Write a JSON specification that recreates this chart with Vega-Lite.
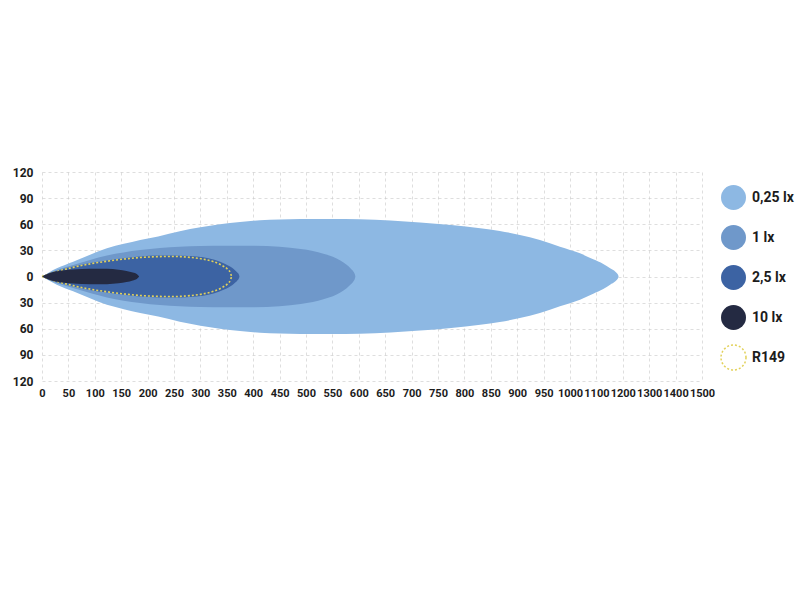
{
  "$schema": "https://vega.github.io/schema/vega-lite/v6.json",
  "autosize": {"type": "none"},
  "padding": {"left": 42, "top": 172, "right": 98, "bottom": 219},
  "width": 660,
  "height": 209,
  "background": "white",
  "config": {
    "view": {"stroke": null},
    "font": "Roboto, 'Liberation Sans', sans-serif",
    "axis": {
      "labelFont": "Roboto, 'Liberation Sans', sans-serif",
      "labelFontSize": 11,
      "labelFontWeight": "bold",
      "labelColor": "#1c1c1c",
      "domain": false,
      "ticks": false,
      "grid": true,
      "gridColor": "#c8c8c8",
      "gridDash": [3, 3],
      "gridWidth": 0.8,
      "gridOpacity": 0.75,
      "title": null,
      "zindex": 1
    }
  },
  "datasets": {
    "zones": [
      {"zone": "0,25 lx", "d": 0, "hi": 0, "lo": 0},
      {"zone": "0,25 lx", "d": 14, "hi": 5, "lo": -5},
      {"zone": "0,25 lx", "d": 28, "hi": 9.4, "lo": -9.4},
      {"zone": "0,25 lx", "d": 59, "hi": 17, "lo": -17},
      {"zone": "0,25 lx", "d": 91, "hi": 25, "lo": -25},
      {"zone": "0,25 lx", "d": 123, "hi": 32.4, "lo": -32.4},
      {"zone": "0,25 lx", "d": 155, "hi": 37.5, "lo": -37.5},
      {"zone": "0,25 lx", "d": 186, "hi": 42, "lo": -42},
      {"zone": "0,25 lx", "d": 220, "hi": 46, "lo": -46},
      {"zone": "0,25 lx", "d": 261, "hi": 52, "lo": -52},
      {"zone": "0,25 lx", "d": 300, "hi": 56.5, "lo": -56.5},
      {"zone": "0,25 lx", "d": 337, "hi": 60, "lo": -60},
      {"zone": "0,25 lx", "d": 375, "hi": 62.5, "lo": -62.5},
      {"zone": "0,25 lx", "d": 413, "hi": 64.5, "lo": -64.5},
      {"zone": "0,25 lx", "d": 450, "hi": 65.5, "lo": -65.5},
      {"zone": "0,25 lx", "d": 489, "hi": 66, "lo": -66},
      {"zone": "0,25 lx", "d": 545, "hi": 66, "lo": -66},
      {"zone": "0,25 lx", "d": 602, "hi": 65.8, "lo": -65.8},
      {"zone": "0,25 lx", "d": 660, "hi": 64.3, "lo": -64.3},
      {"zone": "0,25 lx", "d": 716, "hi": 62, "lo": -62},
      {"zone": "0,25 lx", "d": 775, "hi": 59, "lo": -59},
      {"zone": "0,25 lx", "d": 830, "hi": 55.4, "lo": -55.4},
      {"zone": "0,25 lx", "d": 867, "hi": 52.3, "lo": -52.3},
      {"zone": "0,25 lx", "d": 905, "hi": 47.7, "lo": -47.7},
      {"zone": "0,25 lx", "d": 943, "hi": 41.9, "lo": -41.9},
      {"zone": "0,25 lx", "d": 981, "hi": 34.2, "lo": -34.2},
      {"zone": "0,25 lx", "d": 1019, "hi": 26.6, "lo": -26.6},
      {"zone": "0,25 lx", "d": 1044, "hi": 19.7, "lo": -19.7},
      {"zone": "0,25 lx", "d": 1063, "hi": 14.4, "lo": -14.4},
      {"zone": "0,25 lx", "d": 1076, "hi": 9.4, "lo": -9.4},
      {"zone": "0,25 lx", "d": 1086, "hi": 5.5, "lo": -5.5},
      {"zone": "0,25 lx", "d": 1090, "hi": 2.9, "lo": -2.9},
      {"zone": "0,25 lx", "d": 1091.5, "hi": 1.2, "lo": -1.2},
      {"zone": "0,25 lx", "d": 1092, "hi": 0, "lo": 0},
      {"zone": "1 lx", "d": 0, "hi": 0, "lo": 0},
      {"zone": "1 lx", "d": 15, "hi": 4.5, "lo": -4.5},
      {"zone": "1 lx", "d": 30, "hi": 8, "lo": -8},
      {"zone": "1 lx", "d": 59, "hi": 13.2, "lo": -13.2},
      {"zone": "1 lx", "d": 91, "hi": 19, "lo": -19},
      {"zone": "1 lx", "d": 123, "hi": 24, "lo": -24},
      {"zone": "1 lx", "d": 186, "hi": 30.4, "lo": -30.4},
      {"zone": "1 lx", "d": 261, "hi": 34.2, "lo": -34.2},
      {"zone": "1 lx", "d": 300, "hi": 35, "lo": -35},
      {"zone": "1 lx", "d": 350, "hi": 35.4, "lo": -35.4},
      {"zone": "1 lx", "d": 400, "hi": 35.4, "lo": -35.4},
      {"zone": "1 lx", "d": 450, "hi": 34.2, "lo": -34.2},
      {"zone": "1 lx", "d": 490, "hi": 31.5, "lo": -31.5},
      {"zone": "1 lx", "d": 513, "hi": 29.3, "lo": -29.3},
      {"zone": "1 lx", "d": 533, "hi": 26, "lo": -26},
      {"zone": "1 lx", "d": 551, "hi": 22.7, "lo": -22.7},
      {"zone": "1 lx", "d": 565, "hi": 18.5, "lo": -18.5},
      {"zone": "1 lx", "d": 577, "hi": 13.5, "lo": -13.5},
      {"zone": "1 lx", "d": 585, "hi": 9, "lo": -9},
      {"zone": "1 lx", "d": 590, "hi": 5.5, "lo": -5.5},
      {"zone": "1 lx", "d": 592.5, "hi": 2.5, "lo": -2.5},
      {"zone": "1 lx", "d": 593.5, "hi": 0, "lo": 0},
      {"zone": "2,5 lx", "d": 0, "hi": 0, "lo": 0},
      {"zone": "2,5 lx", "d": 15, "hi": 4, "lo": -4},
      {"zone": "2,5 lx", "d": 30, "hi": 7, "lo": -7},
      {"zone": "2,5 lx", "d": 59, "hi": 11.5, "lo": -11.5},
      {"zone": "2,5 lx", "d": 91, "hi": 15.5, "lo": -15.5},
      {"zone": "2,5 lx", "d": 123, "hi": 18.5, "lo": -18.5},
      {"zone": "2,5 lx", "d": 155, "hi": 21, "lo": -21},
      {"zone": "2,5 lx", "d": 186, "hi": 23, "lo": -23},
      {"zone": "2,5 lx", "d": 220, "hi": 24, "lo": -24},
      {"zone": "2,5 lx", "d": 250, "hi": 24.2, "lo": -24.2},
      {"zone": "2,5 lx", "d": 280, "hi": 23.5, "lo": -23.5},
      {"zone": "2,5 lx", "d": 305, "hi": 22, "lo": -22},
      {"zone": "2,5 lx", "d": 325, "hi": 19.5, "lo": -19.5},
      {"zone": "2,5 lx", "d": 345, "hi": 15, "lo": -15},
      {"zone": "2,5 lx", "d": 360, "hi": 10, "lo": -10},
      {"zone": "2,5 lx", "d": 366, "hi": 7, "lo": -7},
      {"zone": "2,5 lx", "d": 370, "hi": 4.5, "lo": -4.5},
      {"zone": "2,5 lx", "d": 373, "hi": 2, "lo": -2},
      {"zone": "2,5 lx", "d": 374, "hi": 0, "lo": 0},
      {"zone": "10 lx", "d": 0, "hi": 0, "lo": 0},
      {"zone": "10 lx", "d": 15, "hi": 4, "lo": -4},
      {"zone": "10 lx", "d": 34, "hi": 6.5, "lo": -6.5},
      {"zone": "10 lx", "d": 59, "hi": 8, "lo": -8},
      {"zone": "10 lx", "d": 91, "hi": 9, "lo": -9},
      {"zone": "10 lx", "d": 123, "hi": 8.8, "lo": -8.8},
      {"zone": "10 lx", "d": 145, "hi": 7.8, "lo": -7.8},
      {"zone": "10 lx", "d": 160, "hi": 6.3, "lo": -6.3},
      {"zone": "10 lx", "d": 172, "hi": 4.5, "lo": -4.5},
      {"zone": "10 lx", "d": 180, "hi": 2.5, "lo": -2.5},
      {"zone": "10 lx", "d": 184, "hi": 0, "lo": 0}
    ],
    "r149": [
      {"side": "upper", "d": 0, "hi": 0},
      {"side": "upper", "d": 30, "hi": 6},
      {"side": "upper", "d": 59, "hi": 10.5},
      {"side": "upper", "d": 91, "hi": 14.5},
      {"side": "upper", "d": 123, "hi": 17.5},
      {"side": "upper", "d": 155, "hi": 20},
      {"side": "upper", "d": 186, "hi": 21.8},
      {"side": "upper", "d": 220, "hi": 22.8},
      {"side": "upper", "d": 250, "hi": 23},
      {"side": "upper", "d": 280, "hi": 22},
      {"side": "upper", "d": 305, "hi": 20},
      {"side": "upper", "d": 325, "hi": 17},
      {"side": "upper", "d": 340, "hi": 13},
      {"side": "upper", "d": 352, "hi": 8},
      {"side": "upper", "d": 357, "hi": 4},
      {"side": "upper", "d": 359, "hi": 0},
      {"side": "lower", "d": 0, "hi": 0},
      {"side": "lower", "d": 30, "hi": -6},
      {"side": "lower", "d": 59, "hi": -10.5},
      {"side": "lower", "d": 91, "hi": -14.5},
      {"side": "lower", "d": 123, "hi": -17.5},
      {"side": "lower", "d": 155, "hi": -20},
      {"side": "lower", "d": 186, "hi": -21.8},
      {"side": "lower", "d": 220, "hi": -22.8},
      {"side": "lower", "d": 250, "hi": -23},
      {"side": "lower", "d": 280, "hi": -22},
      {"side": "lower", "d": 305, "hi": -20},
      {"side": "lower", "d": 325, "hi": -17},
      {"side": "lower", "d": 340, "hi": -13},
      {"side": "lower", "d": 352, "hi": -8},
      {"side": "lower", "d": 357, "hi": -4},
      {"side": "lower", "d": 359, "hi": 0}
    ]
  },
  "encoding": {
    "x": {
      "field": "d",
      "type": "quantitative",
      "scale": {"domain": [0, 1250], "nice": false},
      "axis": {
        "values": [0, 50, 100, 150, 200, 250, 300, 350, 400, 450, 500, 550, 600, 650, 700, 750, 800, 850, 900, 950, 1000, 1050, 1100, 1150, 1200, 1250],
        "labelExpr": "datum.value <= 1000 ? format(datum.value, 'd') : format(1000 + (datum.value - 1000) * 2, 'd')",
        "labelPadding": 6,
        "labelOverlap": false,
        "labelFlush": false
      }
    },
    "y": {
      "field": "hi",
      "type": "quantitative",
      "stack": null,
      "scale": {"domain": [-120, 120], "nice": false},
      "axis": {
        "values": [-120, -90, -60, -30, 0, 30, 60, 90, 120],
        "labelExpr": "format(abs(datum.value), 'd')",
        "labelFontSize": 12,
        "labelPadding": 9,
        "labelOverlap": false
      }
    }
  },
  "layer": [
    {
      "data": {"name": "zones"},
      "transform": [{"filter": "datum.zone === '0,25 lx'"}],
      "mark": {"type": "area", "interpolate": "monotone", "opacity": 1},
      "encoding": {
        "y2": {"field": "lo"},
        "color": {
          "field": "zone",
          "type": "nominal",
          "scale": {
            "domain": ["0,25 lx", "1 lx", "2,5 lx", "10 lx", "R149"],
            "range": ["#8db8e3", "#6f98ca", "#3c63a3", "#242a42", "transparent"]
          },
          "legend": {
            "title": null,
            "orient": "none",
            "legendX": 678,
            "legendY": 12,
            "padding": 0,
            "symbolType": "circle",
            "symbolSize": 625,
            "symbolOpacity": 1,
            "symbolStrokeWidth": 1.5,
            "rowPadding": 9,
            "labelOffset": 5,
            "labelFont": "Roboto, 'Liberation Sans', sans-serif",
            "labelFontSize": 14,
            "labelFontWeight": "bold",
            "labelColor": "#1c1c1c",
            "encode": {
              "symbols": {
                "update": {
                  "stroke": {"signal": "datum.value === 'R149' ? '#e2d15a' : 'transparent'"},
                  "strokeDash": {"signal": "datum.value === 'R149' ? [2, 2] : null"}
                }
              }
            }
          }
        }
      }
    },
    {
      "data": {"name": "zones"},
      "transform": [{"filter": "datum.zone === '1 lx'"}],
      "mark": {"type": "area", "interpolate": "monotone", "opacity": 1},
      "encoding": {
        "y2": {"field": "lo"},
        "color": {"field": "zone", "type": "nominal"}
      }
    },
    {
      "data": {"name": "zones"},
      "transform": [{"filter": "datum.zone === '2,5 lx'"}],
      "mark": {"type": "area", "interpolate": "monotone", "opacity": 1},
      "encoding": {
        "y2": {"field": "lo"},
        "color": {"field": "zone", "type": "nominal"}
      }
    },
    {
      "data": {"name": "r149"},
      "mark": {"type": "line", "interpolate": "monotone", "color": "#e2d15a", "strokeWidth": 1.6, "strokeDash": [2, 2]},
      "encoding": {
        "detail": {"field": "side", "type": "nominal"}
      }
    },
    {
      "data": {"name": "zones"},
      "transform": [{"filter": "datum.zone === '10 lx'"}],
      "mark": {"type": "area", "interpolate": "monotone", "opacity": 1},
      "encoding": {
        "y2": {"field": "lo"},
        "color": {"field": "zone", "type": "nominal"}
      }
    }
  ]
}
